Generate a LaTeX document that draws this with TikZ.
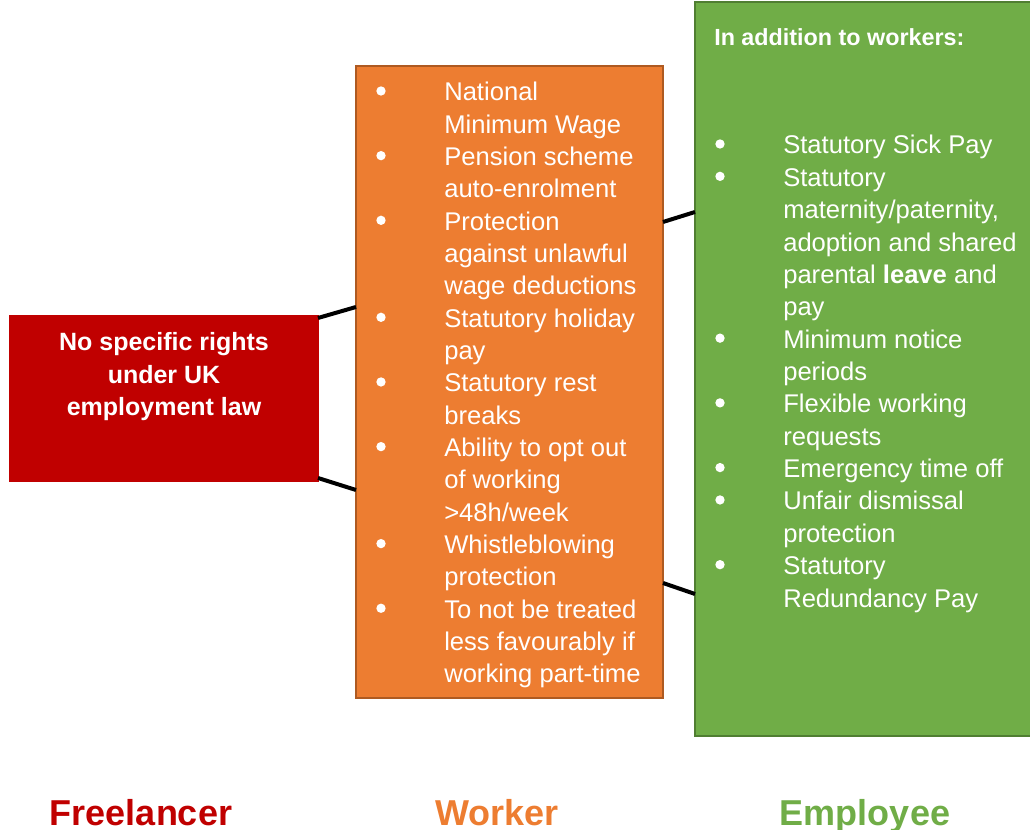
\documentclass[tikz,border=0pt]{standalone}
\usepackage{fontspec}
\setmainfont{Liberation Sans}
\definecolor{freered}{HTML}{C00000}
\definecolor{workorange}{HTML}{ED7D31}
\definecolor{workedge}{HTML}{AE5A21}
\definecolor{empgreen}{HTML}{70AD47}
\definecolor{empedge}{HTML}{507E32}
\newcommand{\bodyfont}{\fontsize{19.2pt}{24.25pt}\selectfont}
\begin{document}
\begin{tikzpicture}[x=0.75pt,y=0.75pt,
    box/.style={draw,line width=1.5pt,inner sep=0pt,outer sep=0pt},
    link/.style={line width=3pt,black},
    item/.style={anchor=base west,text=white,inner sep=0pt,font=\bodyfont},
    dot/.style={circle,fill=white,inner sep=0pt,minimum size=7pt},
    kind/.style={anchor=base,inner sep=0pt,font=\fontsize{27pt}{30pt}\selectfont\bfseries}]
    \useasboundingbox (0,0) rectangle (1030,830);
    % boxes
    \node[box,draw=freered,fill=freered,minimum width=231pt,minimum height=123.75pt] (free) at (164,431.5) {};
    \node[box,draw=workedge,fill=workorange,minimum width=230.25pt,minimum height=474pt] (work) at (509.5,448) {};
    \node[box,draw=empedge,fill=empgreen,minimum width=262.5pt,minimum height=550.5pt] (emp) at (870,461) {};
    % connectors
    \draw[link] ([yshift=-1.5pt]free.north east) -- ([yshift=56.25pt]work.west);
    \draw[link] ([yshift=2.25pt]free.south east) -- ([yshift=-81pt]work.west);
    \draw[link] ([yshift=120pt]work.east) -- ([yshift=117.75pt]emp.west);
    \draw[link] ([yshift=-150.75pt]work.east) -- ([yshift=-168.75pt]emp.west);
    % freelancer
    \node[text=white,align=center,inner sep=0pt,font=\fontsize{18.75pt}{24.4pt}\selectfont\bfseries] (freetxt) at (164,453) {No specific rights\\under UK\\employment law};
    % worker
    \foreach \t [count=\i from 0] in {National, Minimum Wage, Pension scheme, auto-enrolment,
        Protection, against unlawful, wage deductions, Statutory holiday, pay,
        Statutory rest, breaks, Ability to opt out, of working, >48h/week,
        Whistleblowing, protection, To not be treated, less favourably if, working part-time}
        \node[item] (wl\i) at (444,729-\i*32.33) {\t};
    \foreach \i in {0,2,4,7,9,11,14,16}
        \node[dot] (wb\i) at (381,739-\i*32.33) {};
    % employee
    \node[anchor=base west,text=white,inner sep=0pt,font=\fontsize{17.5pt}{21pt}\selectfont\bfseries] (emphead) at (714,784) {In addition to workers:};
    \foreach \t [count=\i from 0] in {Statutory Sick Pay, Statutory, {maternity/paternity,},
        adoption and shared, parental \textbf{leave} and, pay, Minimum notice, periods,
        Flexible working, requests, Emergency time off, Unfair dismissal, protection,
        Statutory, Redundancy Pay}
        \node[item] (el\i) at (783,676-\i*32.36) {\t};
    \foreach \i in {0,1,6,8,10,11,13}
        \node[dot] (eb\i) at (720,686-\i*32.36) {};
    % labels
    \node[kind,text=freered] (freelab) at (141,4) {Freelancer};
    \node[kind,text=workorange] (worklab) at (497,4) {Worker};
    \node[kind,text=empgreen] (emplab) at (865,4) {Employee};
\end{tikzpicture}
\end{document}
